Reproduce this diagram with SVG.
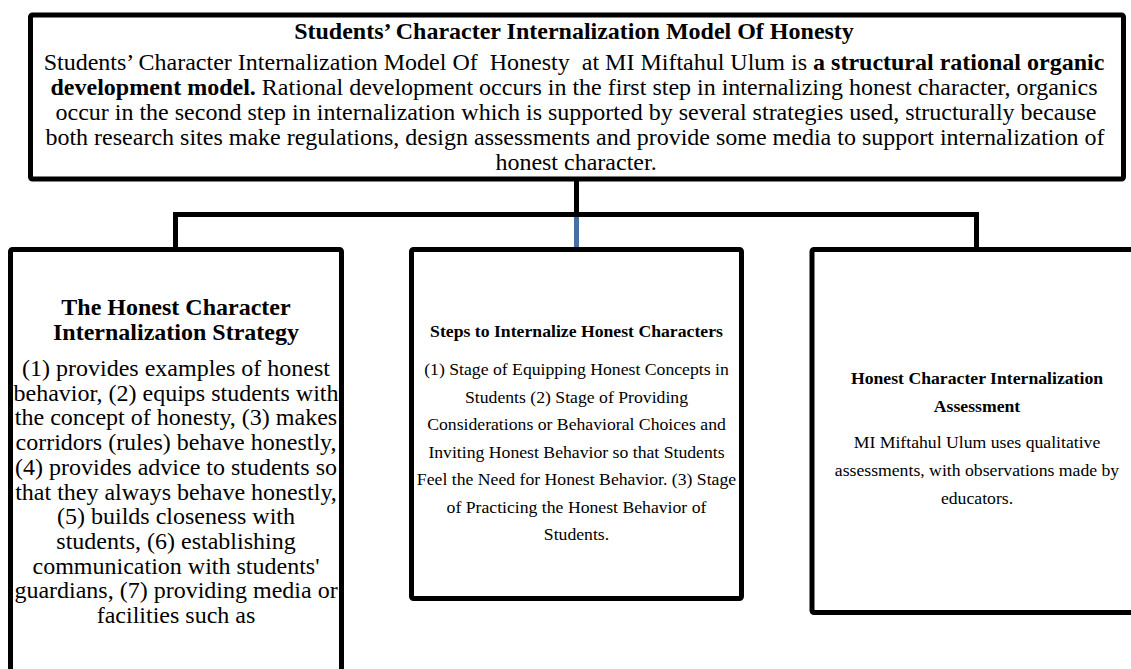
<svg xmlns="http://www.w3.org/2000/svg" width="1131" height="669" viewBox="0 0 1131 669">
<style>
.box{fill:#fff;stroke:#000;stroke-width:5}
.ln{fill:none;stroke:#000;stroke-width:5}
.blue{fill:none;stroke:#4a6fa5;stroke-width:5}
text{font-family:"Liberation Serif","Times New Roman",serif;fill:#000;text-anchor:middle}
.t24{font-size:24px}
.t18{font-size:17.7px}
.b{font-weight:bold}
</style>
<rect width="1131" height="669" fill="#fff"/>
<g id="connectors">
<line class="ln" x1="576.5" y1="179" x2="576.5" y2="214.5"/>
<polyline class="ln" points="175.5,250 175.5,214.5 976.5,214.5 976.5,250"/>
<line class="blue" x1="576.5" y1="217" x2="576.5" y2="248"/>
</g>
<g id="model">
<rect class="box" x="30.5" y="15" width="1093" height="164" rx="2"/>
<text class="t24 b" x="574" y="39">Students’ Character Internalization Model Of Honesty</text>
<text class="t24" x="574" y="70" xml:space="preserve">Students’ Character Internalization Model Of  Honesty  at MI Miftahul Ulum is <tspan class="b">a structural rational organic</tspan></text>
<text class="t24" x="574" y="95"><tspan class="b">development model.</tspan> Rational development occurs in the first step in internalizing honest character, organics</text>
<text class="t24" x="576" y="120">occur in the second step in internalization which is supported by several strategies used, structurally because</text>
<text class="t24" x="575" y="145">both research sites make regulations, design assessments and provide some media to support internalization of</text>
<text class="t24" x="576" y="170">honest character.</text>
</g>
<g id="strategy">
<rect class="box" x="10.5" y="249.5" width="331" height="440" rx="2"/>
<text class="t24 b" x="176" y="315">The Honest Character</text>
<text class="t24 b" x="176" y="340">Internalization Strategy</text>
<text class="t24" x="176" y="376">(1) provides examples of honest</text>
<text class="t24" x="176" y="400.7">behavior, (2) equips students with</text>
<text class="t24" x="176" y="425.4">the concept of honesty, (3) makes</text>
<text class="t24" x="176" y="450.1">corridors (rules) behave honestly,</text>
<text class="t24" x="176" y="474.8">(4) provides advice to students so</text>
<text class="t24" x="176" y="499.5">that they always behave honestly,</text>
<text class="t24" x="176" y="524.2">(5) builds closeness with</text>
<text class="t24" x="176" y="548.9">students, (6) establishing</text>
<text class="t24" x="176" y="573.6">communication with students'</text>
<text class="t24" x="176" y="598.3">guardians, (7) providing media or</text>
<text class="t24" x="176" y="623">facilities such as</text>
</g>
<g id="steps">
<rect class="box" x="411.5" y="249.5" width="330" height="349" rx="2"/>
<text class="t18 b" x="576.5" y="336.7">Steps to Internalize Honest Characters</text>
<text class="t18" x="576.5" y="375">(1) Stage of Equipping Honest Concepts in</text>
<text class="t18" x="576.5" y="402.5">Students (2) Stage of Providing</text>
<text class="t18" x="576.5" y="430">Considerations or Behavioral Choices and</text>
<text class="t18" x="576.5" y="457.5">Inviting Honest Behavior so that Students</text>
<text class="t18" x="576.5" y="485">Feel the Need for Honest Behavior. (3) Stage</text>
<text class="t18" x="576.5" y="512.5">of Practicing the Honest Behavior of</text>
<text class="t18" x="576.5" y="540">Students.</text>
</g>
<g id="assessment">
<rect class="box" x="812" y="249.5" width="330" height="363" rx="2"/>
<text class="t18 b" x="977" y="384">Honest Character Internalization</text>
<text class="t18 b" x="977" y="412">Assessment</text>
<text class="t18" x="977" y="448">MI Miftahul Ulum uses qualitative</text>
<text class="t18" x="977" y="476">assessments, with observations made by</text>
<text class="t18" x="977" y="504">educators.</text>
</g>
</svg>
